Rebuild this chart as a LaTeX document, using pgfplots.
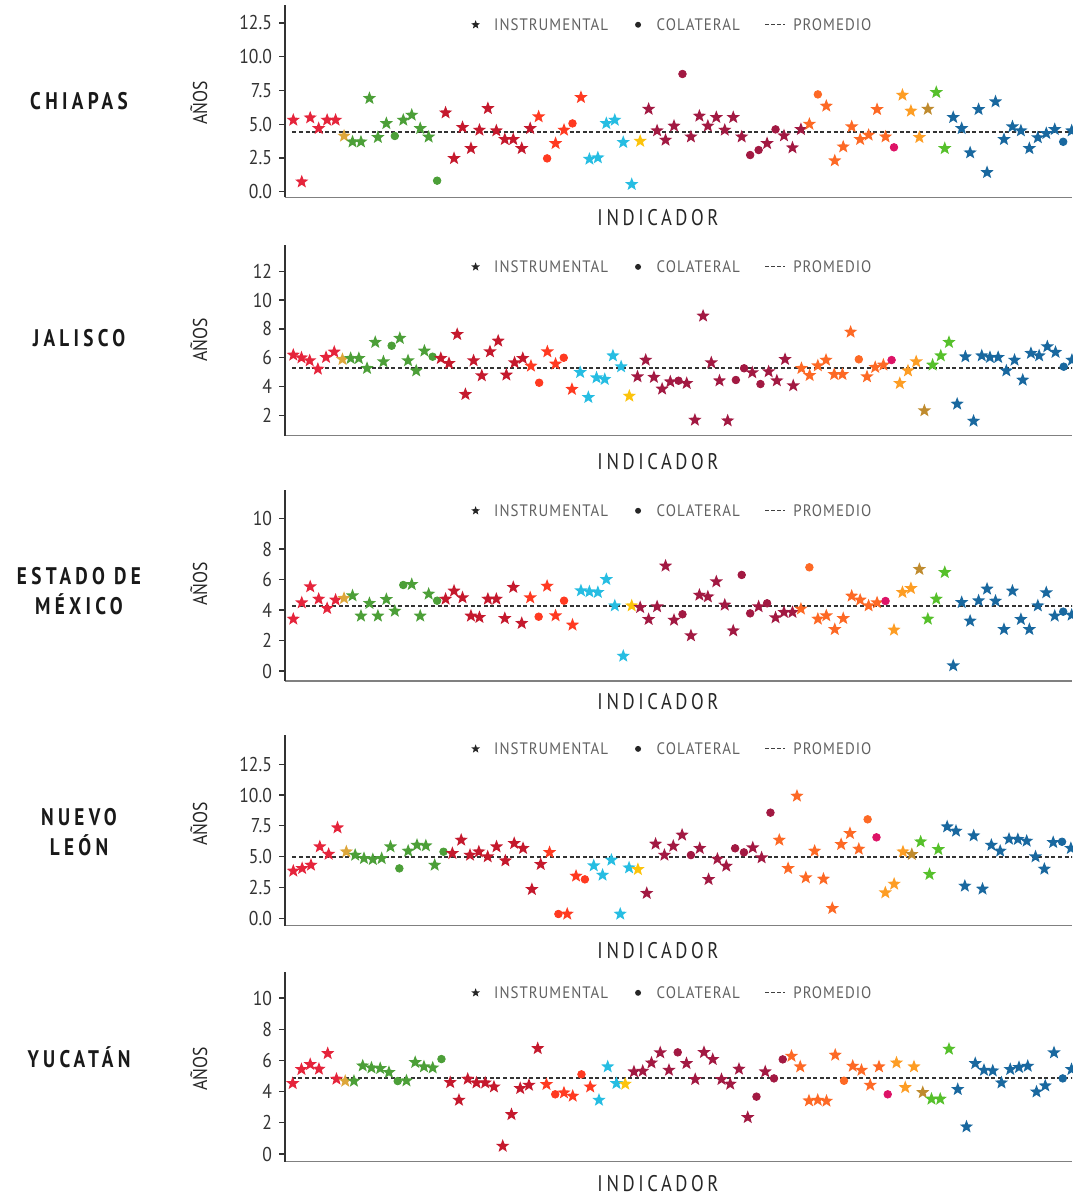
\documentclass[border=0pt]{standalone}
\usepackage{fontspec}
\usepackage{pgfplots}
\usepackage{pgfplotstable}
\pgfplotsset{compat=1.18}
\setmainfont{PT Sans}[FakeStretch=0.88]
\newfontfamily\statefont{PT Sans}[FakeStretch=0.8,LetterSpace=18]
\newfontfamily\indfont{PT Sans}[FakeStretch=0.82,LetterSpace=16]
\newfontfamily\legfont{PT Sans}[FakeStretch=0.9,LetterSpace=6]

\definecolor{g1}{HTML}{E5243B}
\definecolor{g2}{HTML}{DDA63A}
\definecolor{g3}{HTML}{4C9F38}
\definecolor{g4}{HTML}{C5192D}
\definecolor{g5}{HTML}{FF3A21}
\definecolor{g6}{HTML}{26BDE2}
\definecolor{g7}{HTML}{FCC30B}
\definecolor{g8}{HTML}{A21942}
\definecolor{g9}{HTML}{FD6925}
\definecolor{g10}{HTML}{DD1367}
\definecolor{g11}{HTML}{FD9D24}
\definecolor{g12}{HTML}{BF8B2E}
\definecolor{g15}{HTML}{56C02B}
\definecolor{g16}{HTML}{19689F}

% filled five point star
\pgfdeclareplotmark{fstar}{%
  \pgfpathmoveto{\pgfpointpolar{90}{\pgfplotmarksize}}%
  \pgfpathlineto{\pgfpointpolar{126}{0.42\pgfplotmarksize}}%
  \pgfpathlineto{\pgfpointpolar{162}{\pgfplotmarksize}}%
  \pgfpathlineto{\pgfpointpolar{198}{0.42\pgfplotmarksize}}%
  \pgfpathlineto{\pgfpointpolar{234}{\pgfplotmarksize}}%
  \pgfpathlineto{\pgfpointpolar{270}{0.42\pgfplotmarksize}}%
  \pgfpathlineto{\pgfpointpolar{306}{\pgfplotmarksize}}%
  \pgfpathlineto{\pgfpointpolar{342}{0.42\pgfplotmarksize}}%
  \pgfpathlineto{\pgfpointpolar{18}{\pgfplotmarksize}}%
  \pgfpathlineto{\pgfpointpolar{54}{0.42\pgfplotmarksize}}%
  \pgfpathclose
  \pgfusepathqfill
}

\pgfplotsset{
  panel/.style={
    scale only axis, width=393.5pt,
    axis lines=left,
    x axis line style={-, draw=black!50, line width=0.7pt},
    y axis line style={-, draw=black!80, line width=0.6pt},
    xtick=\empty, tick align=outside, major tick length=3pt,
    ytick style={draw=black!80, line width=0.6pt},
    tick label style={font=\fontsize{10}{12}\selectfont, text=black!80},
    /pgf/number format/assume math mode=true,
    clip=true,
    legend style={draw=none, fill=none, inner sep=0pt, legend columns=-1,
      anchor=center, font=\legfont\fontsize{8.3}{10}\selectfont,
      nodes={text=black!62, inner sep=2.8pt},
      /tikz/every even column/.append style={column sep=9.7pt}},
  },
  onedec/.style={yticklabel style={/pgf/number format/fixed,
      /pgf/number format/fixed zerofill, /pgf/number format/precision=1}},
  sdg/.style={
    forget plot, only marks, scatter, scatter src=explicit symbolic,
    scatter/classes={
      s1={mark=fstar,mark size=3.5pt,g1},
      s2={mark=fstar,mark size=3.5pt,g2},
      s3={mark=fstar,mark size=3.5pt,g3}, o3={mark=*,mark size=1.9pt,g3},
      s4={mark=fstar,mark size=3.5pt,g4},
      s5={mark=fstar,mark size=3.5pt,g5}, o5={mark=*,mark size=1.9pt,g5},
      s6={mark=fstar,mark size=3.5pt,g6},
      s7={mark=fstar,mark size=3.5pt,g7},
      s8={mark=fstar,mark size=3.5pt,g8}, o8={mark=*,mark size=1.9pt,g8},
      s9={mark=fstar,mark size=3.5pt,g9}, o9={mark=*,mark size=1.9pt,g9},
      o10={mark=*,mark size=1.9pt,g10},
      s11={mark=fstar,mark size=3.5pt,g11},
      s12={mark=fstar,mark size=3.5pt,g12},
      s15={mark=fstar,mark size=3.5pt,g15},
      s16={mark=fstar,mark size=3.5pt,g16}, o16={mark=*,mark size=1.9pt,g16}
    }
  },
  mean/.style={forget plot, no marks, black!80, line width=0.8pt,
    dash pattern=on 2pt off 1.3pt},
  legstar/.style={legend image code/.code={%
    \path[draw=none,fill=none] (0pt,0pt) -- (9pt,0pt);%
    \fill[black!85, draw=none, shift={(2.5pt,0.6pt)}] (90:2.3pt) -- (126:0.97pt) -- (162:2.3pt)
      -- (198:0.97pt) -- (234:2.3pt) -- (270:0.97pt) -- (306:2.3pt) -- (342:0.97pt)
      -- (18:2.3pt) -- (54:0.97pt) -- cycle;}},
  legdot/.style={legend image code/.code={%
    \path[draw=none,fill=none] (0pt,0pt) -- (9pt,0pt);%
    \fill[black!85, draw=none] (2.5pt,0.6pt) circle[radius=1.5pt];}},
  legdash/.style={legend image code/.code={%
    \path[draw=none,fill=none] (0pt,0pt) -- (11.2pt,0pt);%
    \draw[black!75, line width=0.6pt, dash pattern=on 2pt off 1pt] (0pt,0.6pt) -- (10pt,0.6pt);}},
}

\pgfplotstableread[row sep=\\]{
i v c \\
0 5.31 s1 \\ 1 0.74 s1 \\ 2 5.48 s1 \\ 3 4.69 s1 \\ 4 5.31 s1 \\ 5 5.31 s1 \\
6 4.13 s2 \\
7 3.70 s3 \\ 8 3.70 s3 \\ 9 6.92 s3 \\ 10 4.03 s3 \\ 11 5.06 s3 \\ 12 4.13 o3 \\
13 5.31 s3 \\ 14 5.68 s3 \\ 15 4.69 s3 \\ 16 4.06 s3 \\ 17 0.82 o3 \\
18 5.85 s4 \\ 19 2.47 s4 \\ 20 4.77 s4 \\ 21 3.21 s4 \\ 22 4.57 s4 \\ 23 6.17 s4 \\
24 4.52 s4 \\ 25 3.88 s4 \\ 26 3.88 s4 \\ 27 3.21 s4 \\ 28 4.69 s4 \\
29 5.56 s5 \\ 30 2.47 o5 \\ 31 3.58 s5 \\ 32 4.57 s5 \\ 33 5.06 o5 \\ 34 6.99 s5 \\
35 2.42 s6 \\ 36 2.52 s6 \\ 37 5.06 s6 \\ 38 5.31 s6 \\ 39 3.66 s6 \\ 40 0.55 s6 \\
41 3.75 s7 \\
42 6.12 s8 \\ 43 4.52 s8 \\ 44 3.83 s8 \\ 45 4.87 s8 \\ 46 8.72 o8 \\ 47 4.07 s8 \\
48 5.61 s8 \\ 49 4.87 s8 \\ 50 5.51 s8 \\ 51 4.57 s8 \\ 52 5.51 s8 \\ 53 4.07 s8 \\
54 2.72 o8 \\ 55 3.09 o8 \\ 56 3.58 s8 \\ 57 4.62 o8 \\ 58 4.15 s8 \\ 59 3.26 s8 \\
60 4.62 s8 \\
61 5.01 s9 \\ 62 7.21 o9 \\ 63 6.35 s9 \\ 64 2.30 s9 \\ 65 3.33 s9 \\ 66 4.82 s9 \\
67 3.88 s9 \\ 68 4.20 s9 \\ 69 6.10 s9 \\ 70 4.07 s9 \\
71 3.29 o10 \\
72 7.16 s11 \\ 73 5.98 s11 \\ 74 4.03 s11 \\
75 6.12 s12 \\
76 7.36 s15 \\ 77 3.21 s15 \\
78 5.51 s16 \\ 79 4.69 s16 \\ 80 2.89 s16 \\ 81 6.10 s16 \\ 82 1.43 s16 \\ 83 6.67 s16 \\
84 3.88 s16 \\ 85 4.82 s16 \\ 86 4.52 s16 \\ 87 3.21 s16 \\ 88 4.01 s16 \\ 89 4.32 s16 \\
90 4.62 s16 \\ 91 3.70 o16 \\ 92 4.52 s16 \\
}\chiapas

\pgfplotstableread[row sep=\\]{
i v c \\
0 6.20 s1 \\ 1 6.01 s1 \\ 2 5.81 s1 \\ 3 5.23 s1 \\ 4 6.04 s1 \\ 5 6.41 s1 \\
6 5.90 s2 \\
7 5.97 s3 \\ 8 5.97 s3 \\ 9 5.28 s3 \\ 10 7.08 s3 \\ 11 5.74 s3 \\ 12 6.84 o3 \\
13 7.36 s3 \\ 14 5.81 s3 \\ 15 5.11 s3 \\ 16 6.48 s3 \\ 17 6.08 o3 \\
18 5.97 s4 \\ 19 5.62 s4 \\ 20 7.63 s4 \\ 21 3.48 s4 \\ 22 5.81 s4 \\ 23 4.77 s4 \\
24 6.43 s4 \\ 25 7.17 s4 \\ 26 4.82 s4 \\ 27 5.67 s4 \\ 28 5.97 s4 \\
29 5.44 s5 \\ 30 4.28 o5 \\ 31 6.43 s5 \\ 32 5.58 s5 \\ 33 6.01 o5 \\ 34 3.83 s5 \\
35 5.00 s6 \\ 36 3.27 s6 \\ 37 4.63 s6 \\ 38 4.52 s6 \\ 39 6.15 s6 \\ 40 5.39 s6 \\
41 3.36 s7 \\
42 4.70 s8 \\ 43 5.85 s8 \\ 44 4.66 s8 \\ 45 3.85 s8 \\ 46 4.35 s8 \\ 47 4.42 o8 \\
48 4.24 s8 \\ 49 1.70 s8 \\ 50 8.90 s8 \\ 51 5.67 s8 \\ 52 4.42 s8 \\ 53 1.65 s8 \\
54 4.47 o8 \\ 55 5.28 o8 \\ 56 4.98 s8 \\ 57 4.19 o8 \\ 58 5.05 s8 \\ 59 4.42 s8 \\
60 5.90 s8 \\ 61 4.08 s8 \\
62 5.28 s9 \\ 63 4.79 s9 \\ 64 5.46 s9 \\ 65 5.85 s9 \\ 66 4.86 s9 \\ 67 4.86 s9 \\
68 7.79 s9 \\ 69 5.90 o9 \\ 70 4.70 s9 \\ 71 5.35 s9 \\ 72 5.51 s9 \\
73 5.85 o10 \\
74 4.24 s11 \\ 75 5.11 s11 \\ 76 5.74 s11 \\
77 2.35 s12 \\
78 5.51 s15 \\ 79 6.15 s15 \\ 80 7.08 s15 \\
81 2.81 s16 \\ 82 6.08 s16 \\ 83 1.63 s16 \\ 84 6.15 s16 \\ 85 6.04 s16 \\ 86 6.04 s16 \\
87 5.11 s16 \\ 88 5.85 s16 \\ 89 4.47 s16 \\ 90 6.32 s16 \\ 91 6.15 s16 \\ 92 6.78 s16 \\
93 6.39 s16 \\ 94 5.39 o16 \\ 95 5.85 s16 \\
}\jalisco

\pgfplotstableread[row sep=\\]{
i v c \\
0 3.41 s1 \\ 1 4.48 s1 \\ 2 5.53 s1 \\ 3 4.72 s1 \\ 4 4.11 s1 \\ 5 4.66 s1 \\
6 4.77 s2 \\
7 4.94 s3 \\ 8 3.61 s3 \\ 9 4.44 s3 \\ 10 3.61 s3 \\ 11 4.70 s3 \\ 12 3.93 s3 \\
13 5.64 o3 \\ 14 5.68 s3 \\ 15 3.61 s3 \\ 16 5.05 s3 \\ 17 4.61 o3 \\
18 4.72 s4 \\ 19 5.25 s4 \\ 20 4.81 s4 \\ 21 3.61 s4 \\ 22 3.52 s4 \\ 23 4.72 s4 \\
24 4.72 s4 \\ 25 3.45 s4 \\ 26 5.49 s4 \\ 27 3.13 s4 \\
28 4.81 s5 \\ 29 3.56 o5 \\ 30 5.57 s5 \\ 31 3.63 s5 \\ 32 4.61 o5 \\ 33 3.02 s5 \\
34 5.27 s6 \\ 35 5.20 s6 \\ 36 5.16 s6 \\ 37 6.01 s6 \\ 38 4.28 s6 \\ 39 0.98 s6 \\
40 4.28 s7 \\
41 4.17 s8 \\ 42 3.39 s8 \\ 43 4.22 s8 \\ 44 6.89 s8 \\ 45 3.34 s8 \\ 46 3.72 o8 \\
47 2.32 s8 \\ 48 4.98 s8 \\ 49 4.87 s8 \\ 50 5.86 s8 \\ 51 4.33 s8 \\ 52 2.64 s8 \\
53 6.30 o8 \\ 54 3.78 o8 \\ 55 4.22 s8 \\ 56 4.44 o8 \\ 57 3.50 s8 \\ 58 3.85 s8 \\
59 3.85 s8 \\
60 4.07 s9 \\ 61 6.80 o9 \\ 62 3.41 s9 \\ 63 3.63 s9 \\ 64 2.73 s9 \\ 65 3.45 s9 \\
66 4.92 s9 \\ 67 4.66 s9 \\ 68 4.28 s9 \\ 69 4.48 s9 \\
70 4.59 o10 \\
71 2.69 s11 \\ 72 5.16 s11 \\ 73 5.42 s11 \\
74 6.67 s12 \\
75 3.41 s15 \\ 76 4.72 s15 \\ 77 6.47 s15 \\
78 0.35 s16 \\ 79 4.50 s16 \\ 80 3.28 s16 \\ 81 4.61 s16 \\ 82 5.38 s16 \\ 83 4.59 s16 \\
84 2.73 s16 \\ 85 5.25 s16 \\ 86 3.39 s16 \\ 87 2.73 s16 \\ 88 4.28 s16 \\ 89 5.14 s16 \\
90 3.61 s16 \\ 91 3.89 o16 \\ 92 3.67 s16 \\
}\edomex

\pgfplotstableread[row sep=\\]{
i v c \\
0 3.84 s1 \\ 1 4.05 s1 \\ 2 4.32 s1 \\ 3 5.81 s1 \\ 4 5.21 s1 \\ 5 7.35 s1 \\
6 5.40 s2 \\
7 5.13 s3 \\ 8 4.86 s3 \\ 9 4.78 s3 \\ 10 4.86 s3 \\ 11 5.81 s3 \\ 12 4.05 o3 \\
13 5.46 s3 \\ 14 5.94 s3 \\ 15 5.89 s3 \\ 16 4.32 s3 \\ 17 5.40 o3 \\
18 5.27 s4 \\ 19 6.35 s4 \\ 20 5.13 s4 \\ 21 5.40 s4 \\ 22 5.00 s4 \\ 23 5.81 s4 \\
24 4.67 s4 \\ 25 6.08 s4 \\ 26 5.68 s4 \\ 27 2.35 s4 \\ 28 4.38 s4 \\
29 5.35 s5 \\ 30 0.35 o5 \\ 31 0.35 s5 \\ 32 3.43 s5 \\ 33 3.16 o5 \\
34 4.27 s6 \\ 35 3.51 s6 \\ 36 4.73 s6 \\ 37 0.35 s6 \\ 38 4.10 s6 \\
39 3.97 s7 \\
40 2.03 s8 \\ 41 6.03 s8 \\ 42 5.13 s8 \\ 43 5.86 s8 \\ 44 6.76 s8 \\ 45 5.13 o8 \\
46 5.68 s8 \\ 47 3.16 s8 \\ 48 4.81 s8 \\ 49 4.24 s8 \\ 50 5.68 o8 \\ 51 5.35 o8 \\
52 5.73 s8 \\ 53 4.92 s8 \\ 54 8.57 o8 \\
55 6.35 s9 \\ 56 4.05 s9 \\ 57 9.92 s9 \\ 58 3.30 s9 \\ 59 5.46 s9 \\ 60 3.19 s9 \\
61 0.81 s9 \\ 62 6.00 s9 \\ 63 6.89 s9 \\ 64 5.62 s9 \\ 65 8.03 o9 \\
66 6.57 o10 \\
67 2.08 s11 \\ 68 2.78 s11 \\ 69 5.40 s11 \\
70 5.19 s12 \\
71 6.21 s15 \\ 72 3.57 s15 \\ 73 5.59 s15 \\
74 7.43 s16 \\ 75 7.08 s16 \\ 76 2.62 s16 \\ 77 6.70 s16 \\ 78 2.38 s16 \\ 79 5.94 s16 \\
80 5.46 s16 \\ 81 6.43 s16 \\ 82 6.41 s16 \\ 83 6.27 s16 \\ 84 5.00 s16 \\ 85 4.00 s16 \\
86 6.16 s16 \\ 87 6.21 o16 \\ 88 5.68 s16 \\
}\nleon

\pgfplotstableread[row sep=\\]{
i v c \\
0 4.53 s1 \\ 1 5.43 s1 \\ 2 5.75 s1 \\ 3 5.45 s1 \\ 4 6.45 s1 \\ 5 4.81 s1 \\
6 4.68 s2 \\
7 4.68 s3 \\ 8 5.66 s3 \\ 9 5.53 s3 \\ 10 5.49 s3 \\ 11 5.24 s3 \\ 12 4.68 o3 \\
13 4.70 s3 \\ 14 5.88 s3 \\ 15 5.60 s3 \\ 16 5.53 s3 \\ 17 6.09 o3 \\
18 4.59 s4 \\ 19 3.46 s4 \\ 20 4.81 s4 \\ 21 4.57 s4 \\ 22 4.57 s4 \\ 23 4.31 s4 \\
24 0.51 s4 \\ 25 2.54 s4 \\ 26 4.21 s4 \\ 27 4.42 s4 \\ 28 6.77 s4 \\
29 4.47 s5 \\ 30 3.83 o5 \\ 31 3.93 s5 \\ 32 3.72 s5 \\ 33 5.11 o5 \\ 34 4.31 s5 \\
35 3.46 s6 \\ 36 5.60 s6 \\ 37 4.53 s6 \\
38 4.49 s7 \\
39 5.28 s8 \\ 40 5.32 s8 \\ 41 5.85 s8 \\ 42 6.50 s8 \\ 43 5.38 s8 \\ 44 6.52 o8 \\
45 5.81 s8 \\ 46 4.79 s8 \\ 47 6.52 s8 \\ 48 6.07 s8 \\ 49 4.79 s8 \\ 50 4.49 s8 \\
51 5.45 s8 \\ 52 2.35 s8 \\ 53 3.68 o8 \\ 54 5.28 s8 \\ 55 4.85 o8 \\ 56 6.07 o8 \\
57 6.28 s9 \\ 58 5.60 s9 \\ 59 3.42 s9 \\ 60 3.46 s9 \\ 61 3.40 s9 \\ 62 6.35 s9 \\
63 4.70 o9 \\ 64 5.64 s9 \\ 65 5.38 s9 \\ 66 4.42 s9 \\ 67 5.60 s9 \\
68 3.83 o10 \\
69 5.85 s11 \\ 70 4.27 s11 \\ 71 5.60 s11 \\
72 3.95 s12 \\
73 3.53 s15 \\ 74 3.53 s15 \\ 75 6.73 s15 \\
76 4.15 s16 \\ 77 1.75 s16 \\ 78 5.81 s16 \\ 79 5.38 s16 \\ 80 5.34 s16 \\ 81 4.57 s16 \\
82 5.43 s16 \\ 83 5.56 s16 \\ 84 5.64 s16 \\ 85 3.99 s16 \\ 86 4.38 s16 \\ 87 6.50 s16 \\
88 4.85 o16 \\ 89 5.43 s16 \\
}\yucatan

\newcommand\legendset{%
  \addlegendimage{legstar}\addlegendentry{INSTRUMENTAL}
  \addlegendimage{legdot}\addlegendentry{COLATERAL}
  \addlegendimage{legdash}\addlegendentry{PROMEDIO}}

\begin{document}
\begin{tikzpicture}
\useasboundingbox (0pt,0pt) rectangle (536pt,-598.5pt);

% Chiapas
\begin{axis}[panel, onedec, at={(142.5pt,-98.65pt)}, anchor=south west,
  height=96.15pt, xmin=-0.98, xmax=92.04, ymin=-0.41, ymax=13.83,
  ytick={0,2.5,5,7.5,10,12.5},
  legend style={at={(axis description cs:0.494,0.891)}}]
\legendset
\addplot[mean] coordinates {(-0.1,4.44) (100,4.44)};
\addplot[sdg] table[x=i,y=v,meta=c] {\chiapas};
\end{axis}

% Jalisco
\begin{axis}[panel, at={(142.5pt,-217.85pt)}, anchor=south west,
  height=95.35pt, xmin=-1.01, xmax=95.01, ymin=0.616, ymax=13.81,
  ytick={2,4,6,8,10,12},
  legend style={at={(axis description cs:0.494,0.879)}}]
\legendset
\addplot[mean] coordinates {(-0.1,5.32) (100,5.32)};
\addplot[sdg] table[x=i,y=v,meta=c] {\jalisco};
\end{axis}

% Estado de Mexico
\begin{axis}[panel, at={(142.5pt,-340.5pt)}, anchor=south west,
  height=95.5pt, xmin=-0.98, xmax=92.04, ymin=-0.656, ymax=11.87,
  ytick={0,2,4,6,8,10},
  legend style={at={(axis description cs:0.494,0.885)}}]
\legendset
\addplot[mean] coordinates {(-0.1,4.28) (100,4.28)};
\addplot[sdg] table[x=i,y=v,meta=c] {\edomex};
\end{axis}

% Nuevo Leon
\begin{axis}[panel, onedec, at={(142.5pt,-462.85pt)}, anchor=south west,
  height=95.35pt, xmin=-0.94, xmax=88.13, ymin=-0.6, ymax=14.87,
  ytick={0,2.5,5,7.5,10,12.5},
  legend style={at={(axis description cs:0.494,0.921)}}]
\legendset
\addplot[mean] coordinates {(-0.1,4.95) (100,4.95)};
\addplot[sdg] table[x=i,y=v,meta=c] {\nleon};
\end{axis}

% Yucatan
\begin{axis}[panel, at={(142.5pt,-580.85pt)}, anchor=south west,
  height=94.85pt, xmin=-0.88, xmax=89.06, ymin=-0.49, ymax=11.67,
  ytick={0,2,4,6,8,10},
  legend style={at={(axis description cs:0.494,0.884)}}]
\legendset
\addplot[mean] coordinates {(-0.1,4.89) (100,4.89)};
\addplot[sdg] table[x=i,y=v,meta=c] {\yucatan};
\end{axis}

% axis titles
\tikzset{yl/.style={rotate=90, anchor=base, inner sep=0pt, text=black!85,
    font=\fontsize{10}{12}\selectfont},
  xl/.style={anchor=base, inner sep=0pt, text=black!85,
    font=\indfont\fontsize{11.3}{13}\selectfont},
  st/.style={anchor=base, inner sep=0pt, text=black!90, xshift=1pt,
    font=\statefont\bfseries\fontsize{12}{14}\selectfont}}
\foreach \yy in {51.5,170,292,412,534.5}
  \node[yl] at (103.5pt,-\yy pt) {AÑOS};
\foreach \yy in {113,234.5,354.5,479,595.8}
  \node[xl] at (329pt,-\yy pt) {INDICADOR};
\node[st] at (38.5pt,-54.7pt) {CHIAPAS};
\node[st] at (38.5pt,-173.2pt) {JALISCO};
\node[st] at (38.5pt,-292.2pt) {ESTADO DE};
\node[st] at (38.5pt,-307.2pt) {MÉXICO};
\node[st] at (38.5pt,-412.7pt) {NUEVO};
\node[st] at (38.5pt,-427.7pt) {LEÓN};
\node[st] at (38.5pt,-533.7pt) {YUCATÁN};
\end{tikzpicture}
\end{document}
